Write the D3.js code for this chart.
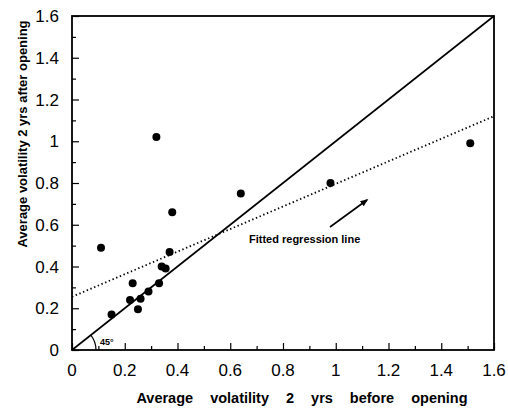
<!DOCTYPE html>
<html>
<head>
<meta charset="utf-8">
<script src="https://cdn.jsdelivr.net/npm/d3@7"></script>
<style>
  body { margin: 0; background: #fff; }
  svg { display: block; font-family: "Liberation Sans", Arial, sans-serif; }
</style>
</head>
<body>
<div id="chart"></div>
<script>
// data
const before = [0.11, 0.15, 0.22, 0.23, 0.26, 0.25, 0.29, 0.33, 0.34, 0.355, 0.37, 0.38, 0.32, 0.64, 0.98, 1.51];
const after  = [0.49, 0.17, 0.24, 0.32, 0.245, 0.195, 0.28, 0.32, 0.40, 0.39, 0.47, 0.66, 1.02, 0.75, 0.80, 0.99];
const fitX = [0, 1.6];
const fitY = [0.255, 1.12];
const tickValues = [0, 0.2, 0.4, 0.6, 0.8, 1, 1.2, 1.4, 1.6];
const tickLabels = ['0', '0.2', '0.4', '0.6', '0.8', '1', '1.2', '1.4', '1.6'];
const minorTicks = d3.range(0.1, 1.6, 0.2);

const width = 508, height = 409;
const margin = { left: 72, right: 14, top: 16, bottom: 59 };

const svg = d3.select('#chart').append('svg')
    .attr('width', width)
    .attr('height', height);

const x = d3.scaleLinear().domain([0, 1.6]).range([margin.left, width - margin.right]);
const y = d3.scaleLinear().domain([0, 1.6]).range([height - margin.bottom, margin.top]);

// frame
svg.append('rect')
    .attr('x', x(0)).attr('y', y(1.6))
    .attr('width', x(1.6) - x(0)).attr('height', y(0) - y(1.6))
    .attr('fill', 'none').attr('stroke', '#000').attr('stroke-width', 1.8);

// bottom axis, ticks pointing inward
const xAxis = svg.append('g')
    .attr('transform', `translate(0,${y(0)})`)
    .call(d3.axisTop(x).tickValues(tickValues).tickSize(7).tickFormat(''));
xAxis.select('.domain').remove();
svg.append('g')
    .attr('transform', `translate(0,${y(0)})`)
    .call(d3.axisTop(x).tickValues(minorTicks).tickSize(4).tickFormat(''))
    .select('.domain').remove();
svg.append('g').selectAll('text')
    .data(tickValues)
    .enter().append('text')
    .attr('x', d => x(d))
    .attr('y', y(0) + 26)
    .attr('text-anchor', 'middle')
    .attr('font-size', '17px')
    .text((d, i) => tickLabels[i]);

// left axis, ticks pointing inward
const yAxis = svg.append('g')
    .attr('transform', `translate(${x(0)},0)`)
    .call(d3.axisRight(y).tickValues(tickValues).tickSize(7).tickFormat(''));
yAxis.select('.domain').remove();
svg.append('g')
    .attr('transform', `translate(${x(0)},0)`)
    .call(d3.axisRight(y).tickValues(minorTicks).tickSize(4).tickFormat(''))
    .select('.domain').remove();
svg.append('g').selectAll('text')
    .data(tickValues)
    .enter().append('text')
    .attr('x', x(0) - 13)
    .attr('y', d => y(d) + 6)
    .attr('text-anchor', 'end')
    .attr('font-size', '17px')
    .text((d, i) => tickLabels[i]);

svg.selectAll('.tick line').attr('stroke-width', 1.2);

// 45 degree line
svg.append('line')
    .attr('x1', x(0)).attr('y1', y(0))
    .attr('x2', x(1.6)).attr('y2', y(1.6))
    .attr('stroke', '#000').attr('stroke-width', 1.6);

// fitted regression line (dotted)
svg.append('line')
    .attr('x1', x(fitX[0])).attr('y1', y(fitY[0]))
    .attr('x2', x(fitX[1])).attr('y2', y(fitY[1]))
    .attr('stroke', '#000').attr('stroke-width', 1.8)
    .attr('stroke-dasharray', '1.4,2.6');

// 45 degree arc
const r = 24;
const ang = Math.atan2(y(0) - y(1.6), x(1.6) - x(0));
svg.append('path')
    .attr('d', `M${x(0) + r},${y(0)} A${r},${r} 0 0 0 ${x(0) + r * Math.cos(ang)},${y(0) - r * Math.sin(ang)}`)
    .attr('fill', 'none').attr('stroke', '#000').attr('stroke-width', 1.2);
svg.append('text')
    .attr('x', x(0) + 28).attr('y', y(0) - 5)
    .attr('font-size', '9px').attr('font-weight', 'bold')
    .text('45°');

// points
svg.append('g').selectAll('circle')
    .data(before.map((b, i) => [b, after[i]]))
    .enter().append('circle')
    .attr('cx', d => x(d[0]))
    .attr('cy', d => y(d[1]))
    .attr('r', 4)
    .attr('fill', '#000');

// annotation
svg.append('text')
    .attr('x', 249).attr('y', 243)
    .attr('font-size', '11px').attr('font-weight', 'bold')
    .text('Fitted regression line');
svg.append('defs').append('marker')
    .attr('id', 'arrow')
    .attr('viewBox', '0 0 10 10')
    .attr('refX', 8).attr('refY', 5)
    .attr('markerWidth', 5).attr('markerHeight', 5)
    .attr('orient', 'auto')
    .append('path').attr('d', 'M0,1 L10,5 L0,9 Z').attr('fill', '#000');
svg.append('line')
    .attr('x1', 330).attr('y1', 227)
    .attr('x2', 367).attr('y2', 200)
    .attr('stroke', '#000').attr('stroke-width', 1.6)
    .attr('marker-end', 'url(#arrow)');

// axis titles
svg.append('text')
    .attr('x', 302).attr('y', 403)
    .attr('text-anchor', 'middle')
    .attr('font-size', '14.5px').attr('font-weight', 'bold')
    .attr('word-spacing', '13px')
    .text('Average volatility 2 yrs before opening');
svg.append('text')
    .attr('transform', 'translate(27,134) rotate(-90)')
    .attr('text-anchor', 'middle')
    .attr('font-size', '13px').attr('font-weight', 'bold')
    .text('Average volatility 2 yrs after opening');
</script>
</body>
</html>
